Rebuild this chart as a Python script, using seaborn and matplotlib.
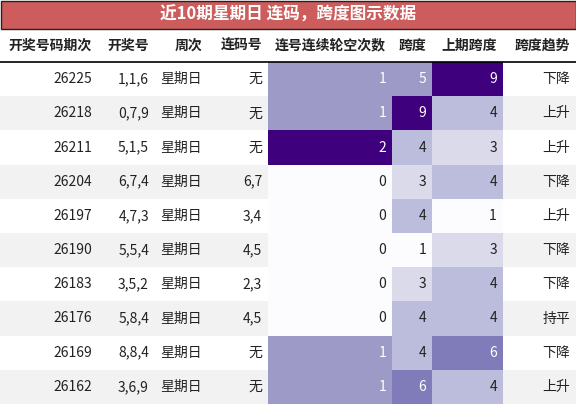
import matplotlib
matplotlib.use("Agg")
import matplotlib.pyplot as plt
import seaborn as sns
import numpy as np
import pandas as pd
from matplotlib.patches import Rectangle

sns.set_theme(style="white")
plt.rcParams['font.family'] = ['Noto Sans CJK SC', 'DejaVu Sans']

title = "近10期星期日 连码，跨度图示数据"
headers = ["开奖号码期次", "开奖号", "周次", "连码号", "连号连续轮空次数", "跨度", "上期跨度", "跨度趋势"]
periods = ["26225", "26218", "26211", "26204", "26197", "26190", "26183", "26176", "26169", "26162"]
numbers = ["1,1,6", "0,7,9", "5,1,5", "6,7,4", "4,7,3", "5,5,4", "3,5,2", "5,8,4", "8,8,4", "3,6,9"]
weekday = ["星期日"] * 10
lianma = ["无", "无", "无", "6,7", "3,4", "4,5", "2,3", "4,5", "无", "无"]
miss = [1, 1, 2, 0, 0, 0, 0, 0, 1, 1]
span = [5, 9, 4, 3, 4, 1, 3, 4, 4, 6]
prev_span = [9, 4, 3, 4, 1, 3, 4, 4, 6, 4]
trend = ["下降", "上升", "上升", "下降", "上升", "下降", "下降", "持平", "下降", "上升"]

W, H = 576, 404
col_edges = [0, 98, 155, 208, 268, 392, 432, 503, 576]
title_h, head_bot = 29, 62
n = len(periods)
row_h = (H - head_bot) / n

fig = plt.figure(figsize=(W / 100, H / 100), dpi=100)
ax = fig.add_axes([0, 0, 1, 1])
ax.set_xlim(0, W); ax.set_ylim(H, 0); ax.axis("off")

# title bar
ax.add_patch(Rectangle((0.5, 0.5), W - 1, title_h - 1, facecolor="#cd5c5c", edgecolor="#222222", lw=1))
ax.text(W / 2, title_h / 2, title, color="white", fontsize=12, fontweight="bold", ha="center", va="center")

# rows background
for i in range(n):
    if i % 2 == 1:
        ax.add_patch(Rectangle((0, head_bot + i * row_h), W, row_h, facecolor="#f2f2f2", edgecolor="none"))
ax.plot([0, W], [head_bot, head_bot], color="black", lw=1.2)

# headers
for j, h in enumerate(headers):
    ax.text(col_edges[j + 1] - 6, (title_h + head_bot) / 2, h, fontsize=10, fontweight="bold",
            ha="right", va="center", color="#222222")

# heatmap columns
heat_cols = [(4, miss, 0, 2), (5, span, 1, 9), (6, prev_span, 1, 9)]
for j, vals, vmin, vmax in heat_cols:
    x0, x1 = col_edges[j], col_edges[j + 1]
    hax = fig.add_axes([x0 / W, 1 - H / H, (x1 - x0) / W, (H - head_bot) / H])
    df = pd.DataFrame({"v": vals})
    sns.heatmap(df, ax=hax, cmap="Purples", vmin=vmin, vmax=vmax, cbar=False,
                xticklabels=False, yticklabels=False, annot=False)
    hax.axis("off")
    for i, v in enumerate(vals):
        frac = (v - vmin) / (vmax - vmin)
        ax.text(x1 - 6, head_bot + (i + 0.5) * row_h, str(v), fontsize=10, ha="right", va="center",
                color="white" if frac >= 0.5 else "#222222", zorder=10)

text_cols = {0: periods, 1: numbers, 2: weekday, 3: lianma, 7: trend}
for j, vals in text_cols.items():
    for i, v in enumerate(vals):
        ax.text(col_edges[j + 1] - 6, head_bot + (i + 0.5) * row_h, v, fontsize=10, ha="right",
                va="center", color="#222222")

# bring text axes on top
ax.set_zorder(5); ax.patch.set_visible(False)
bg = fig.add_axes([0, 0, 1, 1], zorder=-1)
bg.set_xlim(0, W); bg.set_ylim(H, 0); bg.axis("off")
for i in range(n):
    if i % 2 == 1:
        bg.add_patch(Rectangle((0, head_bot + i * row_h), W, row_h, facecolor="#f2f2f2", edgecolor="none"))
for p in list(ax.patches)[1:]:
    p.remove()

fig.savefig("out.png", dpi=100)
